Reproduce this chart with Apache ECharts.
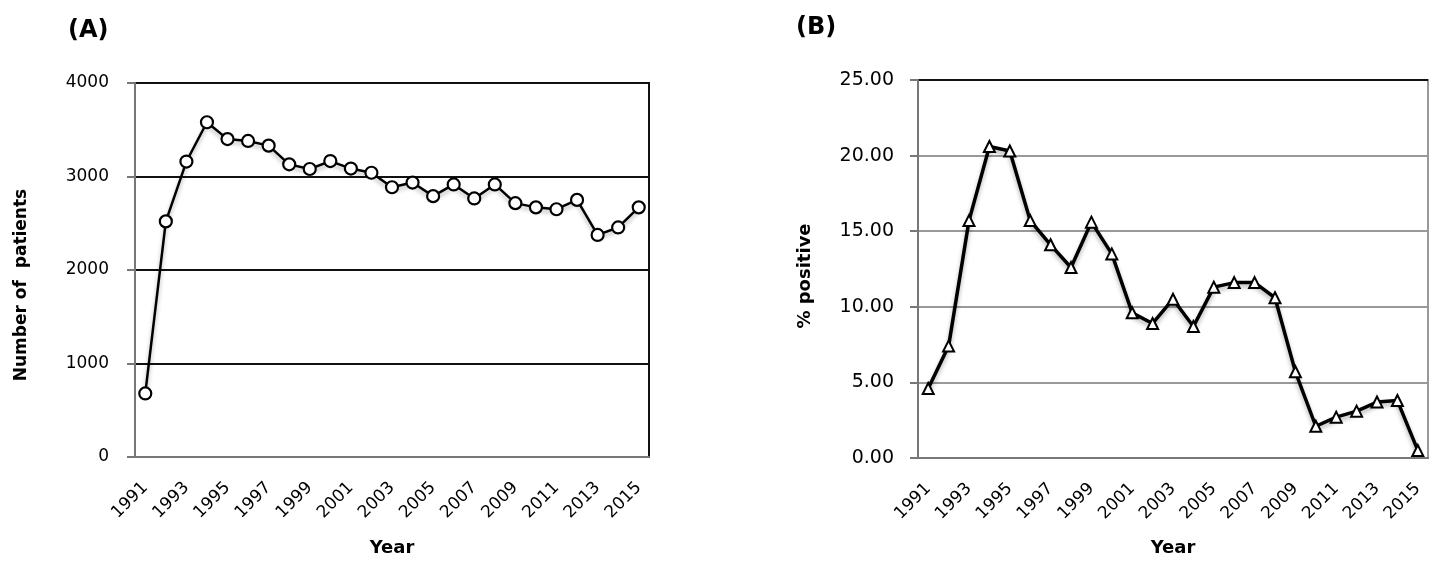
<!DOCTYPE html>
<html>
<head>
<meta charset="utf-8">
<script src="https://cdn.jsdelivr.net/npm/echarts@6/dist/echarts.min.js"></script>
<style>
html,body{margin:0;padding:0;background:#fff;}
#chart{width:1437px;height:561px;}
</style>
</head>
<body>
<div id="chart"></div>
<script>
var years = ['1991','1992','1993','1994','1995','1996','1997','1998','1999','2000','2001','2002','2003','2004','2005','2006','2007','2008','2009','2010','2011','2012','2013','2014','2015'];
var patients = [680, 2520, 3160, 3580, 3400, 3380, 3330, 3130, 3080, 3165, 3085, 3040, 2885, 2935, 2790, 2915, 2765, 2915, 2715, 2670, 2650, 2750, 2375, 2455, 2670];
var positive = [4.6, 7.4, 15.7, 20.6, 20.3, 15.7, 14.1, 12.6, 15.6, 13.5, 9.6, 8.9, 10.5, 8.7, 11.3, 11.6, 11.6, 10.6, 5.7, 2.1, 2.7, 3.1, 3.7, 3.8, 0.5];
var panelLabels = ['(A)', '(B)'];
var yTitles = ['Number of  patients', '% positive'];
var xTitle = 'Year';

var FONT = 'DejaVu Sans';
var chart = echarts.init(document.getElementById('chart'), null, {renderer: 'canvas'});

var shadow = {shadowColor: 'rgba(0,0,0,0.3)', shadowBlur: 4, shadowOffsetY: 3};

var option = {
  backgroundColor: '#fff',
  animation: false,
  grid: [
    {left: 135, top: 83, width: 514, height: 374, show: true, borderColor: '#111', borderWidth: 2, backgroundColor: 'transparent'},
    {left: 918, top: 80, width: 510, height: 378, show: true, borderColor: '#999', borderWidth: 2, backgroundColor: 'transparent'}
  ],
  xAxis: [0, 1].map(function (i) {
    return {
      type: 'category', gridIndex: i, data: years, boundaryGap: true,
      axisLine: {show: true, lineStyle: {color: '#777', width: 2}},
      axisTick: {show: false},
      axisLabel: {interval: 1, rotate: 45, margin: 28, fontFamily: FONT, fontSize: 17, color: '#000'},
      splitLine: {show: false}
    };
  }),
  yAxis: [
    {
      type: 'value', gridIndex: 0, min: 0, max: 4000, interval: 1000,
      axisLine: {show: true, lineStyle: {color: '#777', width: 2}},
      axisTick: {show: true, inside: false, length: 8, lineStyle: {color: '#777', width: 2}},
      axisLabel: {margin: 26, fontFamily: FONT, fontSize: 17, color: '#000',
        formatter: function (v) { return String(v); }},
      splitLine: {show: true, lineStyle: {color: '#111', width: 2}}
    },
    {
      type: 'value', gridIndex: 1, min: 0, max: 25, interval: 5,
      axisLine: {show: true, lineStyle: {color: '#777', width: 2}},
      axisTick: {show: true, inside: false, length: 8, lineStyle: {color: '#777', width: 2}},
      axisLabel: {margin: 24, fontFamily: FONT, fontSize: 19, color: '#000',
        formatter: function (v) { return v.toFixed(2); }},
      splitLine: {show: true, lineStyle: {color: ['#999', '#999', '#999', '#999', '#999', '#111'], width: 2}}
    }
  ],
  graphic: [
    {type: 'text', x: 68, y: 31, style: {text: panelLabels[0], font: 'bold 24px "DejaVu Sans"', fill: '#000', verticalAlign: 'middle'}},
    {type: 'text', x: 796, y: 28, style: {text: panelLabels[1], font: 'bold 24px "DejaVu Sans"', fill: '#000', verticalAlign: 'middle'}},
    {type: 'text', x: 22, y: 285, rotation: Math.PI / 2, style: {text: yTitles[0], font: 'bold 17px "DejaVu Sans"', fill: '#000', align: 'center', verticalAlign: 'middle'}},
    {type: 'text', x: 805, y: 276, rotation: Math.PI / 2, style: {text: yTitles[1], font: 'bold 18px "DejaVu Sans"', fill: '#000', align: 'center', verticalAlign: 'middle'}},
    {type: 'text', x: 392, y: 548, style: {text: xTitle, font: 'bold 18px "DejaVu Sans"', fill: '#000', align: 'center', verticalAlign: 'middle'}},
    {type: 'text', x: 1173, y: 548, style: {text: xTitle, font: 'bold 18px "DejaVu Sans"', fill: '#000', align: 'center', verticalAlign: 'middle'}}
  ],
  series: [
    {
      type: 'line', xAxisIndex: 0, yAxisIndex: 0, data: patients,
      symbol: 'circle', symbolSize: 12,
      lineStyle: Object.assign({color: '#000', width: 2.5}, shadow),
      itemStyle: {color: '#fff', borderColor: '#000', borderWidth: 2.2},
      z: 5
    },
    {
      type: 'line', xAxisIndex: 1, yAxisIndex: 1, data: positive,
      symbol: 'triangle', symbolSize: 11,
      lineStyle: Object.assign({color: '#000', width: 3.5}, shadow),
      itemStyle: {color: '#fff', borderColor: '#000', borderWidth: 2},
      z: 5
    }
  ]
};
chart.setOption(option);
</script>
</body>
</html>
